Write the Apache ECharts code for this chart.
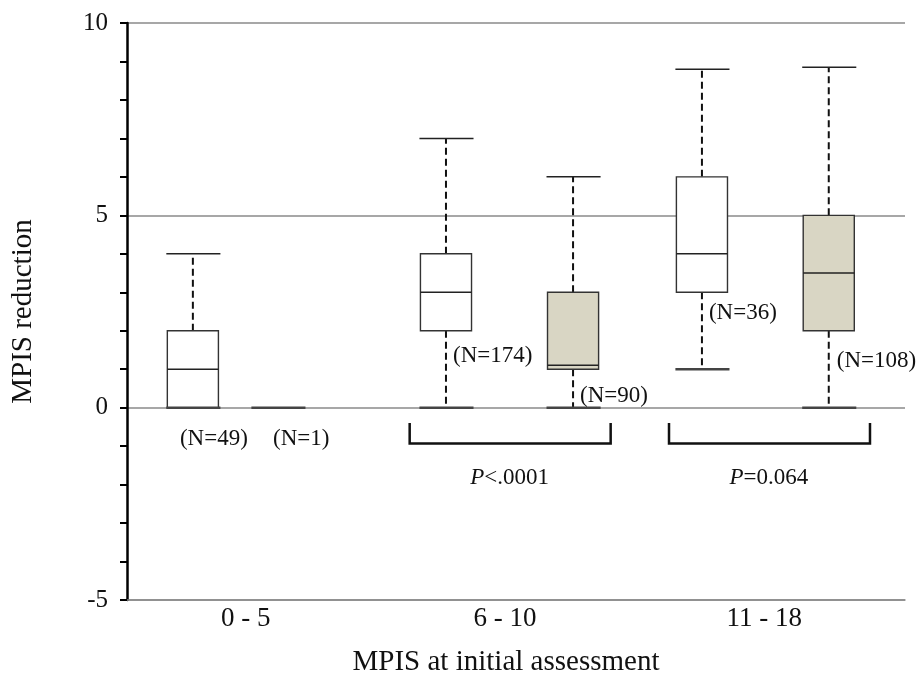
<!DOCTYPE html>
<html>
<head>
<meta charset="utf-8">
<title>MPIS reduction</title>
<script src="https://cdn.jsdelivr.net/npm/echarts@6/dist/echarts.min.js"></script>
<style>
    html, body { margin: 0; padding: 0; background: #fff; }
    #chart { width: 922px; height: 687px; }
</style>
</head>
<body>
<div id="chart"></div>
<script>
// data
var categories = ['0 - 5', '6 - 10', '11 - 18'];
// each box: [min, Q1, median, Q3, max]
var whiteBoxes = [[0, 0, 1, 2, 4], [0, 2, 3, 4, 7], [1, 3, 4, 6, 8.8]];
var tanBoxes = [[0, 0, 0, 0, 0], [0, 1, 1.1, 3, 6], [0, 2, 3.5, 5, 8.85]];
var whiteN = ['(N=49)', '(N=174)', '(N=36)'];
var tanN = ['(N=1)', '(N=90)', '(N=108)'];
var pTexts = ['', '<.0001', '=0.064'];

// layout (fractions of a category band / y values for the text anchors)
var FONT = '"Liberation Serif", "Times New Roman", serif';
var boxW = 0.197;
var whiteOff = [-0.246, -0.27, -0.283];
var tanOff = [0.082, 0.22, 0.206];
var whiteLabelX = [-0.296, -0.243, -0.256], whiteLabelY = [-0.81, 1.35, 2.45];
var tanLabelX = [0.063, 0.247, 0.237], tanLabelY = [-0.81, 0.31, 1.22];

function toRows(boxes) {
    return boxes.map(function (b, i) { return [i].concat(b); });
}

function boxRenderer(offsets, labels, labelX, labelY, fill) {
    return function (params, api) {
        var i = api.value(0);
        var band = api.size([1, 0])[0];
        var c0 = api.coord([i, 0])[0];
        var cx = c0 + offsets[i] * band;
        var w = band * boxW;
        var y = function (v) { return api.coord([i, v])[1]; };
        var mn = api.value(1), q1 = api.value(2), md = api.value(3), q3 = api.value(4), mx = api.value(5);
        var kids = [];
        var solid = { stroke: '#222', lineWidth: 1.5 };
        var dash = { stroke: '#111', lineWidth: 2, lineDash: [7, 4] };
        if (mx > mn) {
            if (mx > q3) {
                kids.push({ type: 'line', shape: { x1: cx, y1: y(q3), x2: cx, y2: y(mx) }, style: dash });
            }
            if (q1 > mn) {
                kids.push({ type: 'line', shape: { x1: cx, y1: y(q1), x2: cx, y2: y(mn) }, style: dash });
            }
            kids.push({ type: 'rect', shape: { x: cx - w / 2, y: y(q3), width: w, height: y(q1) - y(q3) },
                style: { fill: fill, stroke: '#333', lineWidth: 1.4 } });
            kids.push({ type: 'line', shape: { x1: cx - w / 2, y1: y(md), x2: cx + w / 2, y2: y(md) }, style: solid });
            kids.push({ type: 'line', shape: { x1: cx - w / 2 - 1, y1: y(mx), x2: cx + w / 2 + 2, y2: y(mx) }, style: solid });
        }
        kids.push({ type: 'line', shape: { x1: cx - w / 2 - 1, y1: y(mn), x2: cx + w / 2 + 2, y2: y(mn) },
            style: { stroke: '#444', lineWidth: 2.5 } });
        kids.push({ type: 'text', x: c0 + labelX[i] * band, y: y(labelY[i]),
            style: { text: labels[i], fontSize: 23, fontFamily: FONT, fill: '#111', align: 'left', verticalAlign: 'middle' } });
        return { type: 'group', children: kids };
    };
}

var myChart = echarts.init(document.getElementById('chart'));

var option = {
    animation: false,
    backgroundColor: '#fff',
    grid: { left: 127, right: 17, top: 23, bottom: 87 },
    xAxis: {
        type: 'category',
        data: categories,
        axisLine: { onZero: false, lineStyle: { color: '#8a8a8a', width: 1.5 } },
        axisTick: { show: false },
        axisLabel: { margin: 5, fontSize: 27, fontFamily: FONT, color: '#111', padding: [0, 22, 0, 0] },
        splitLine: { show: false },
        name: 'MPIS at initial assessment',
        nameLocation: 'middle',
        nameGap: 48,
        nameTextStyle: { fontSize: 29, fontFamily: FONT, color: '#111', padding: [0, 20, 0, 0] }
    },
    yAxis: {
        type: 'value',
        min: -5,
        max: 10,
        interval: 5,
        axisLine: { show: true, lineStyle: { color: '#000', width: 2.5 } },
        axisTick: { show: true, length: 7, lineStyle: { color: '#000', width: 2 } },
        minorTick: { show: true, splitNumber: 5, length: 7, lineStyle: { color: '#000', width: 2 } },
        splitLine: { show: true, lineStyle: { color: '#8a8a8a', width: 1.5 } },
        axisLabel: { margin: 19, fontSize: 25, fontFamily: FONT, color: '#111' },
        name: 'MPIS reduction',
        nameLocation: 'middle',
        nameGap: 89,
        nameTextStyle: { fontSize: 29, fontFamily: FONT, color: '#111' }
    },
    series: [{
        name: 'white',
        type: 'custom',
        renderItem: boxRenderer(whiteOff, whiteN, whiteLabelX, whiteLabelY, '#ffffff'),
        encode: { x: 0, y: [1, 2, 3, 4, 5] },
        data: toRows(whiteBoxes),
        clip: false,
        z: 3
    }, {
        name: 'tan',
        type: 'custom',
        renderItem: boxRenderer(tanOff, tanN, tanLabelX, tanLabelY, '#d9d6c4'),
        encode: { x: 0, y: [1, 2, 3, 4, 5] },
        data: toRows(tanBoxes),
        clip: false,
        z: 3
    }, {
        name: 'p',
        type: 'custom',
        renderItem: function (params, api) {
            var i = api.value(0);
            if (!pTexts[i]) return;
            var band = api.size([1, 0])[0];
            var c0 = api.coord([i, 0])[0];
            var yTop = api.coord([i, -0.4])[1], yBot = api.coord([i, -0.93])[1];
            var xl = c0 - 0.41 * band, xr = c0 + 0.365 * band;
            return {
                type: 'group',
                children: [{
                    type: 'polyline',
                    shape: { points: [[xl, yTop], [xl, yBot], [xr, yBot], [xr, yTop]] },
                    style: { stroke: '#111', lineWidth: 2.5, fill: null }
                }, {
                    type: 'text',
                    x: c0 - 0.025 * band,
                    y: api.coord([i, -1.82])[1],
                    style: {
                        text: '{i|P}{n|' + pTexts[i] + '}',
                        align: 'center',
                        verticalAlign: 'middle',
                        rich: {
                            i: { fontSize: 23, fontFamily: FONT, fontStyle: 'italic', fill: '#111' },
                            n: { fontSize: 23, fontFamily: FONT, fill: '#111' }
                        }
                    }
                }]
            };
        },
        encode: { x: 0, y: 1 },
        data: [[0, 0], [1, 0], [2, 0]],
        clip: false,
        z: 3
    }]
};

myChart.setOption(option);
</script>
</body>
</html>
